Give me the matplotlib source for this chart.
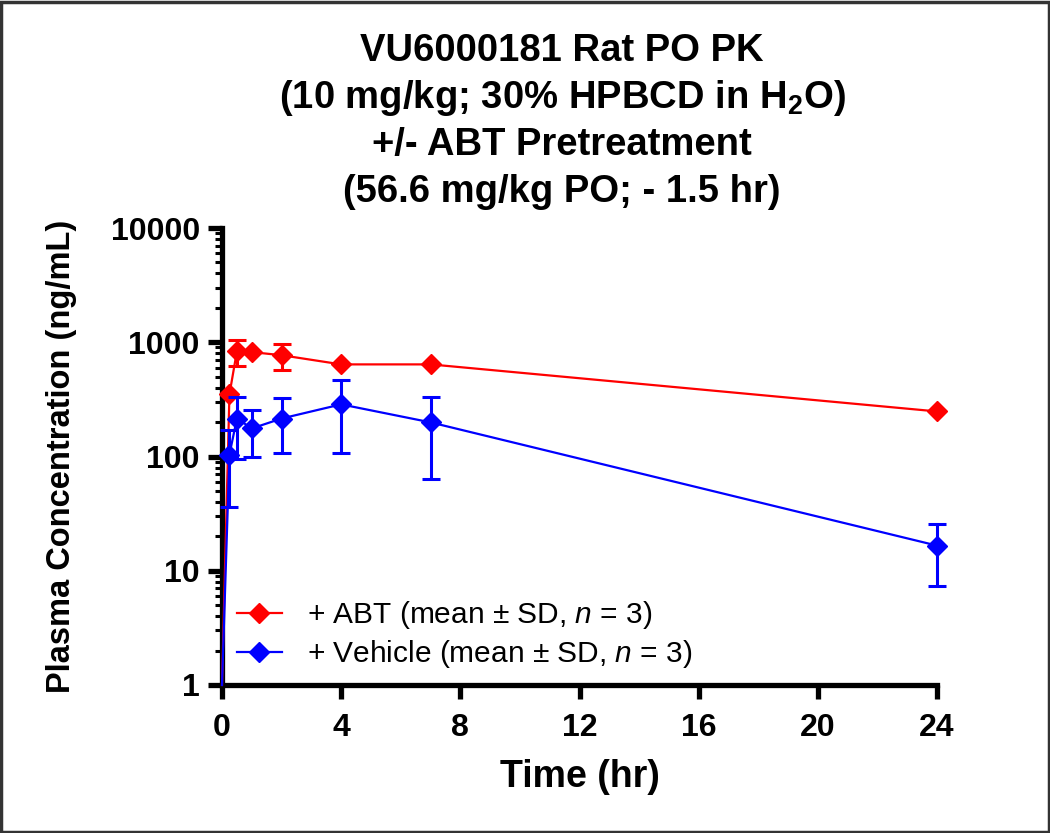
import matplotlib
matplotlib.use("Agg")
import matplotlib.pyplot as plt
from matplotlib.patches import Rectangle
from matplotlib.ticker import FixedLocator, FixedFormatter, LogLocator, NullFormatter
import numpy as np

plt.rcParams['font.family'] = ['Liberation Sans', 'DejaVu Sans']
plt.rcParams['mathtext.fontset'] = 'custom'
plt.rcParams['mathtext.rm'] = 'Liberation Sans'
plt.rcParams['mathtext.it'] = 'Liberation Sans:italic'
plt.rcParams['mathtext.bf'] = 'Liberation Sans:bold'
plt.rcParams['mathtext.default'] = 'regular'

# Data
time_hr = [0, 0.25, 0.5, 1, 2, 4, 7, 24]
abt_mean = [0, 350, 835, 820, 770, 640, 640, 248]
abt_sd = [0, 0, 220, 0, 200, 0, 0, 0]
veh_mean = [0, 104, 215, 176, 215, 286, 199, 16.6]
veh_sd = [0, 68, 120, 77, 108, 179, 136, 9.3]

xticks = [0, 4, 8, 12, 16, 20, 24]
yticks = [1, 10, 100, 1000, 10000]
ytick_labels = ["1", "10", "100", "1000", "10000"]

title_lines = ["VU6000181 Rat PO PK",
               "(10 mg/kg; 30% HPBCD in H$_2$O)",
               "+/- ABT Pretreatment",
               "(56.6 mg/kg PO; - 1.5 hr)"]
xlabel = "Time (hr)"
ylabel = "Plasma Concentration (ng/mL)"
labels = ["+ ABT (mean \u00b1 SD, $\\it{n}$ = 3)",
          "+ Vehicle (mean \u00b1 SD, $\\it{n}$ = 3)"]
colors = ['#ff0000', '#0000ff']

W, H = 1050, 833
fig = plt.figure(figsize=(W / 100, H / 100), dpi=100)
ax = fig.add_axes([222 / W, 1 - 685 / H, 715 / W, (685 - 228) / H])
ax.set_yscale('log')
ax.set_xlim(0, 24)
ax.set_ylim(1, 10000)
ymin = ax.get_ylim()[0]

t = np.array(time_hr, dtype=float)
handles = []
for k, (mean, sd, c) in enumerate([(abt_mean, abt_sd, colors[0]),
                                    (veh_mean, veh_sd, colors[1])]):
    m = np.array(mean, dtype=float)
    s = np.array(sd, dtype=float)
    pos = m > 0
    line_y = np.where(pos, m, ymin)  # zero concentrations drawn at the axis floor
    idx = list(np.nonzero(pos)[0])
    ax.errorbar(t[pos], m[pos], yerr=s[pos], fmt='none', ecolor=c,
                elinewidth=2.2, capsize=6.5, capthick=2.2, clip_on=False,
                zorder=2.5 + k)
    ln, = ax.plot(t, line_y, color=c, linewidth=1.6, marker='D', markersize=10.5,
                  markevery=idx, clip_on=False, zorder=3 + k)
    handles.append(ln)

ax.xaxis.set_major_locator(FixedLocator(xticks))
ax.set_xticklabels([str(v) for v in xticks])
ax.yaxis.set_major_locator(FixedLocator(yticks))
ax.yaxis.set_major_formatter(FixedFormatter(ytick_labels))
ax.yaxis.set_minor_locator(LogLocator(base=10, subs=np.arange(2, 10)))
ax.yaxis.set_minor_formatter(NullFormatter())

for s_ in ['top', 'right']:
    ax.spines[s_].set_visible(False)
for s_ in ['left', 'bottom']:
    ax.spines[s_].set_linewidth(3.8)

ax.tick_params(axis='both', which='major', direction='out', length=10, width=3.8,
               labelsize=23)
ax.tick_params(axis='y', which='major', pad=6)
ax.tick_params(axis='x', which='major', pad=10)
ax.tick_params(axis='y', which='minor', direction='out', length=5, width=2.2)
for lab in ax.get_xticklabels() + ax.get_yticklabels():
    lab.set_fontweight('bold')

ax.set_xlabel(xlabel, fontsize=27, fontweight='bold', labelpad=12)
ax.set_ylabel(ylabel, fontsize=23.5, fontweight='bold', labelpad=24)

for i, line in enumerate(title_lines):
    fig.text(562 / W, 1 - (51 + i * 47) / H, line, ha='center', va='center',
             fontsize=27.5, fontweight='bold')

leg = ax.legend(handles, labels, loc='upper left',
                bbox_to_anchor=(237 / W, 1 - 599 / H), bbox_transform=fig.transFigure,
                frameon=False, fontsize=21.5, handlelength=1.5, handletextpad=0.85,
                numpoints=1, borderpad=0, borderaxespad=0, labelspacing=0.25)

fig.patches.append(Rectangle((0.001, 0.001), 0.998, 0.997, transform=fig.transFigure,
                             fill=False, edgecolor='#333333', linewidth=2.5))

fig.savefig('out.png', dpi=100)
